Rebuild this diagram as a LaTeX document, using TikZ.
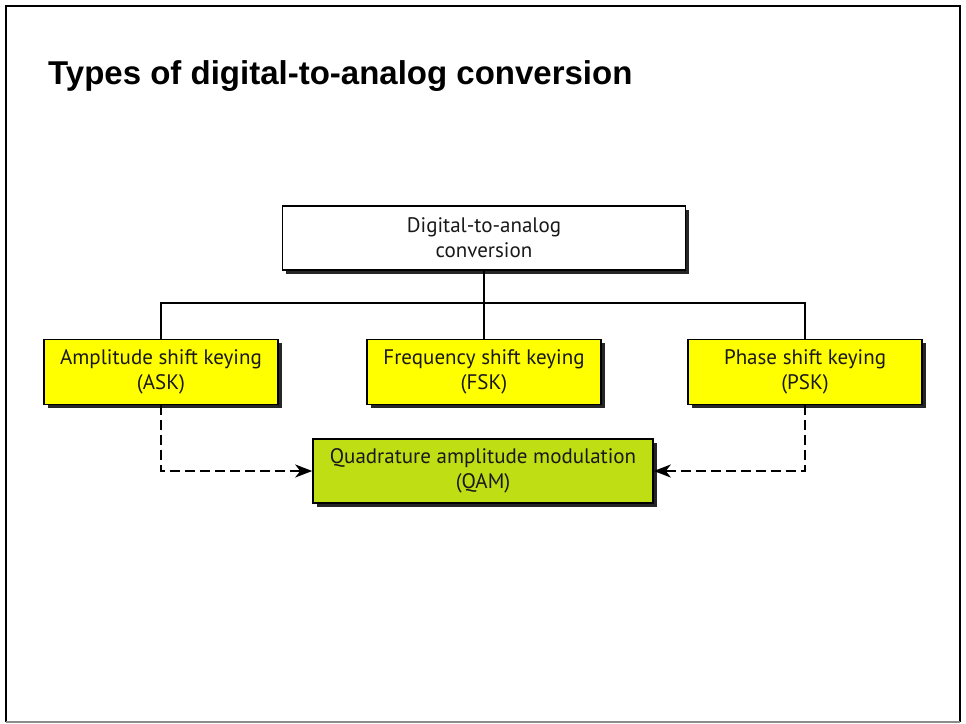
\documentclass[tikz,border=0pt]{standalone}
\usepackage{fontspec}
\setmainfont{PT Sans}
\newfontfamily\titlefont{Liberation Sans}
\usetikzlibrary{arrows.meta,shadows}
\definecolor{boxyellow}{RGB}{255,255,0}
\definecolor{qamgreen}{RGB}{192,222,20}
\definecolor{textdark}{RGB}{25,25,25}
\begin{document}
\begin{tikzpicture}[x=1pt,y=-1pt,
  box/.style={draw=black, line width=1.6pt, minimum height=65pt, align=center,
    font=\fontsize{21}{25}\selectfont, text=textdark, inner sep=0pt,
    drop shadow={shadow xshift=3.5pt, shadow yshift=-3.5pt, fill=black!85, opacity=1}},
  conn/.style={line width=2pt},
  dconn/.style={line width=2pt, dash pattern=on 10pt off 5pt, -{Stealth[length=17pt,width=13pt,inset=5pt]}}]
\useasboundingbox (0,0) rectangle (966,723);
\fill[white] (0,0) rectangle (966,723);
\draw[line width=2pt] (6,722) -- (6,6) -- (960,6) -- (960,722);
\draw[line width=1.5pt, black!45] (6,722) -- (960,722);
\node[anchor=base west, inner sep=0pt, font=\titlefont\bfseries\fontsize{33}{40}\selectfont] (title) at (48,84) {Types of digital-to-analog conversion};
\node[box, fill=white, minimum width=403pt, minimum height=64pt] (dac) at (484,238) {Digital-to-analog\\conversion};
\node[box, fill=boxyellow, minimum width=234pt] (ask) at (161,372) {Amplitude shift keying\\(ASK)};
\node[box, fill=boxyellow, minimum width=234pt] (fsk) at (484,372) {Frequency shift keying\\(FSK)};
\node[box, fill=boxyellow, minimum width=234pt] (psk) at (805,372) {Phase shift keying\\(PSK)};
\node[box, fill=qamgreen, minimum width=340pt, minimum height=64pt] (qam) at (483,471) {Quadrature amplitude modulation\\(QAM)};
\coordinate (bus) at (484,303);
\draw[conn] (dac.south) -- (bus);
\draw[conn] (ask.north) |- (bus) -| (psk.north);
\draw[conn] (bus) -- (fsk.north);
\draw[dconn] (ask.south) |- (qam.west);
\draw[dconn] (psk.south) |- (qam.east);
\end{tikzpicture}
\end{document}
